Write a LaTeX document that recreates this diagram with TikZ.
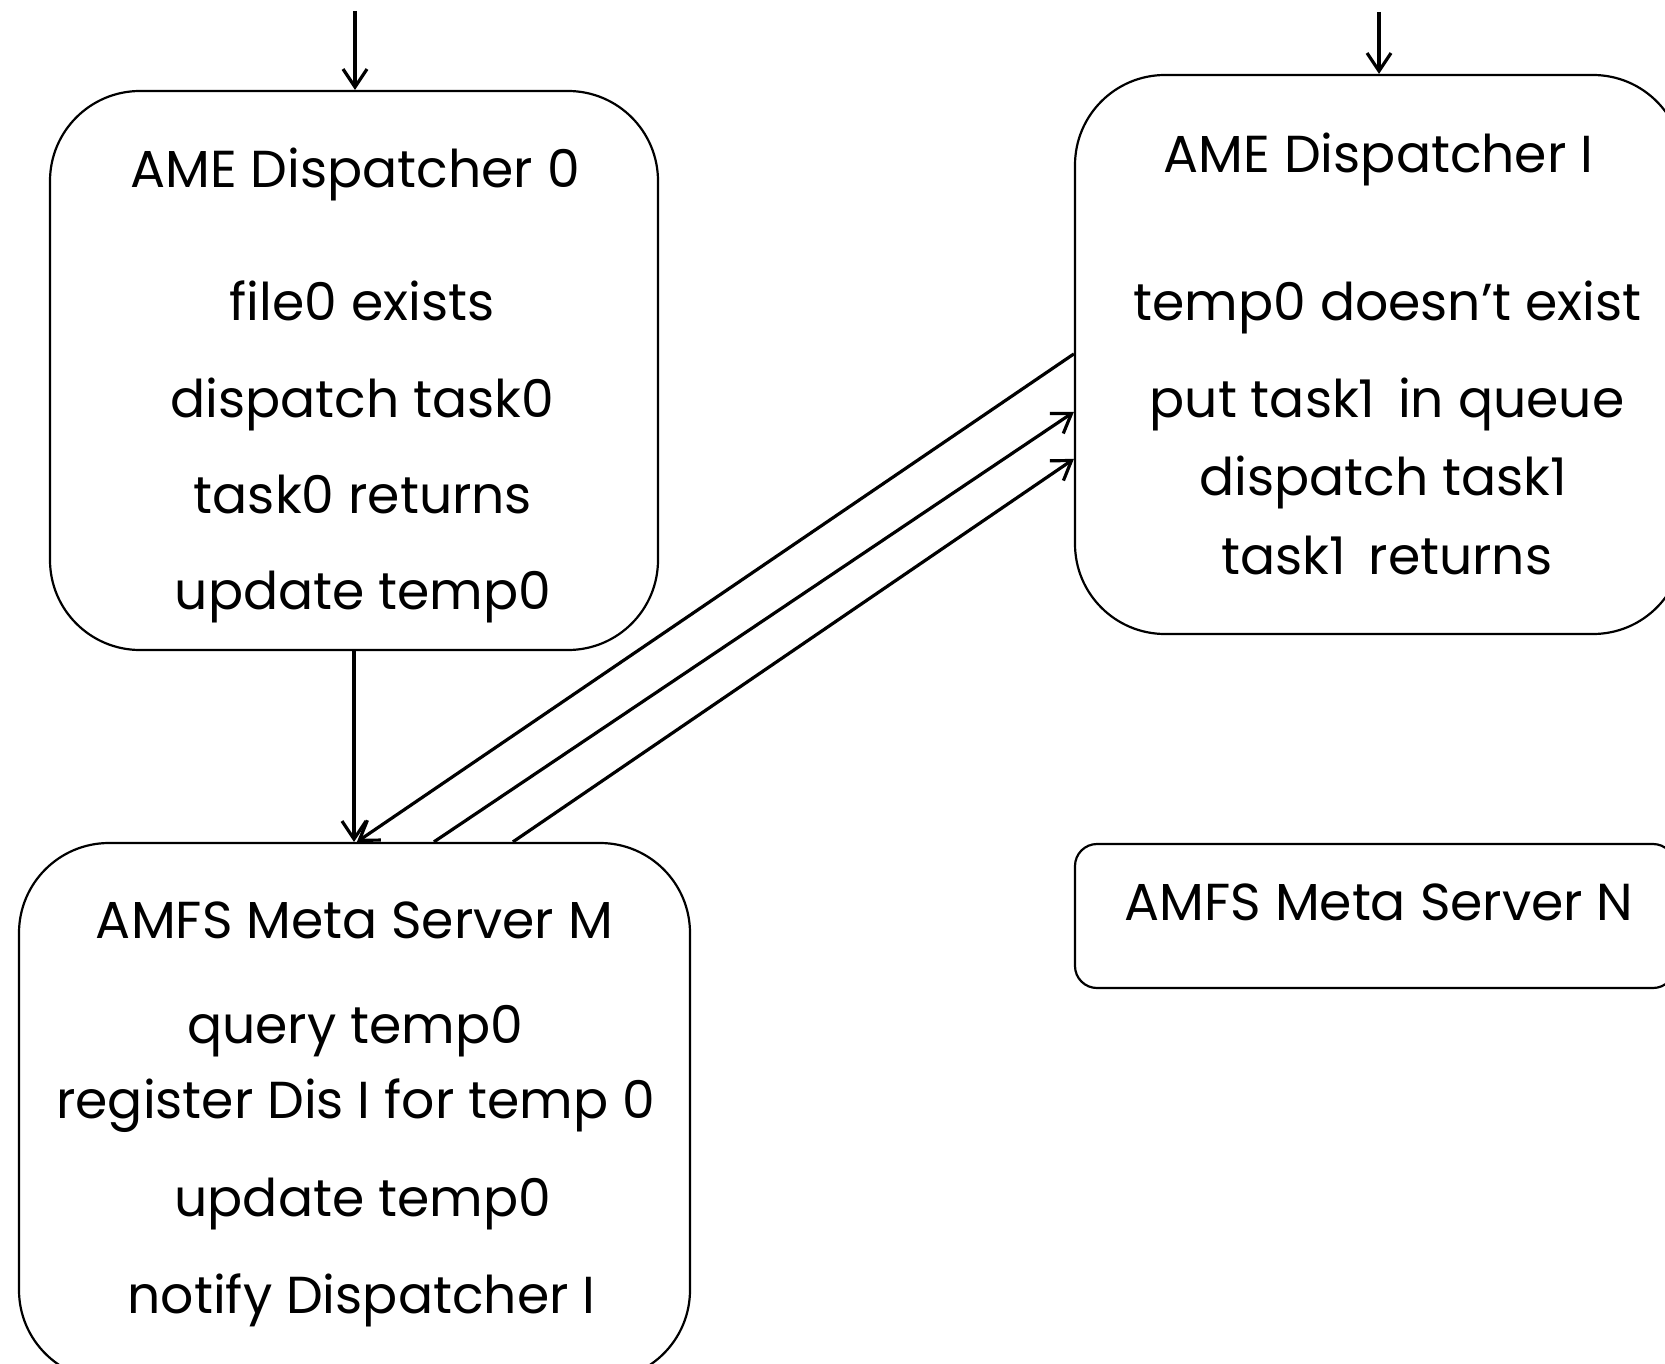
\documentclass[tikz,border=0pt]{standalone}
\usepackage{fontspec}
\setmainfont{Poppins}
\usetikzlibrary{arrows.meta,calc}
\begin{document}
\begin{tikzpicture}[x=0.5pt,y=-0.5pt,
  bigbox/.style={draw,line width=1.1pt,rounded corners=45pt,inner sep=0pt},
  smallbox/.style={draw,line width=1.1pt,rounded corners=11pt,inner sep=0pt},
  txt/.style={anchor=base,inner sep=0pt,font=\fontsize{26}{31}\selectfont},
  conn/.style={line width=1.6pt,-{Straight Barb[length=9pt,width=12pt,line width=1.6pt]}}]
\useasboundingbox (0,0) rectangle (1665,1364);
% boxes
\node[bigbox,minimum width=304pt,minimum height=279.5pt] (A) at (354,370.5) {};
\node[bigbox,minimum width=304pt,minimum height=279.5pt] (D) at (1379,354.5) {};
\node[bigbox,minimum width=335.5pt,minimum height=268.5pt] (M) at (354.5,1111.5) {};
\node[smallbox,minimum width=300pt,minimum height=72pt] (N) at (1375,916) {};
% texts
\node[txt] (a0) at (355,188) {AME Dispatcher 0};
\node[txt] (a1) at (362,320.5) {file0 exists};
\node[txt] (a2) at (362,417) {dispatch task0};
\node[txt] (a3) at (363,513) {task0 returns};
\node[txt] (a4) at (363,609) {update temp0};
\node[txt] (d0) at (1378.5,173) {AME Dispatcher I};
\node[txt] (d1) at (1387.5,321) {temp0 doesn’t exist};
\node[txt] (d2) at (1387,417) {put task1\, in queue};
\node[txt] (d3) at (1383,495.5) {dispatch task1};
\node[txt] (d4) at (1387,574) {task1\, returns};
\node[txt] (m0) at (354.5,938) {AMFS Meta Server M};
\node[txt] (m1) at (355,1043) {query temp0};
\node[txt] (m2) at (355.5,1118) {register Dis I for temp 0};
\node[txt] (m3) at (362.7,1216) {update temp0};
\node[txt] (m4) at (361.5,1313) {notify Dispatcher I};
\node[txt] (n0) at (1379,920) {AMFS Meta Server N};
% entry arrows
\coordinate (inA) at (355,11);
\coordinate (inD) at (1379,12);
\draw[conn] (inA) -- (inA |- A.north);
\draw[conn] (inD) -- (inD |- D.north);
% A to M
\draw[conn] (A.south) -- (A.south |- M.north);
% diagonals
\draw[conn] ($(D.north west)+(0,280)$) -- ($(M.north west)+(339,0)$);
\draw[conn] ($(M.north west)+(416,0)$) -- ($(D.north west)+(0,338)$);
\draw[conn] ($(M.north west)+(495,0)$) -- ($(D.north west)+(0,385)$);
\end{tikzpicture}
\end{document}
